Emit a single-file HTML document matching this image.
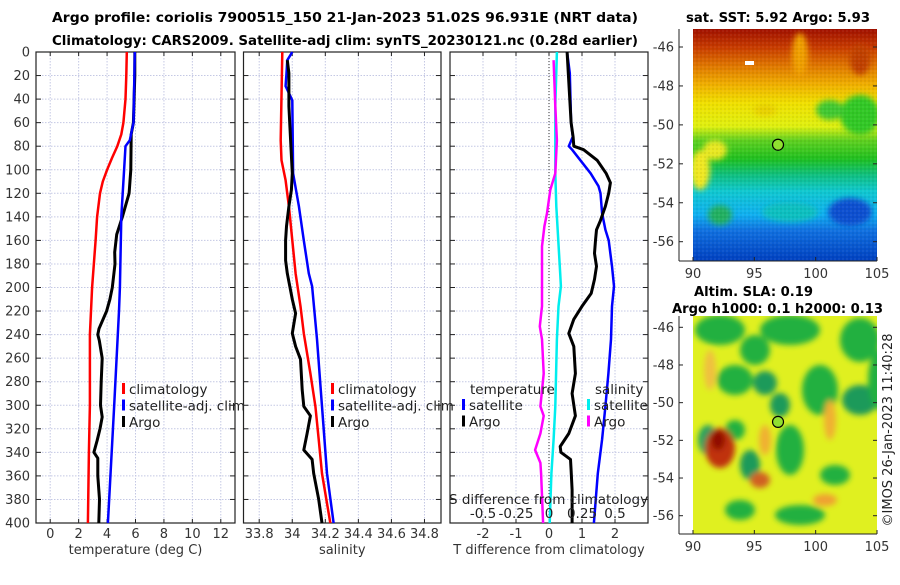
<!DOCTYPE html>
<html><head><meta charset="utf-8"><style>
body{margin:0;background:#fff;width:900px;height:580px;overflow:hidden}
svg{font-family:"DejaVu Sans","Liberation Sans",sans-serif}
</style></head><body>
<svg id="c" width="900" height="580" xmlns="http://www.w3.org/2000/svg">
<defs>
<linearGradient id="sst" x1="0" y1="0" x2="0" y2="1">
<stop offset="0" stop-color="#a01000"/><stop offset="0.08" stop-color="#c83c00"/><stop offset="0.16" stop-color="#e07800"/>
<stop offset="0.24" stop-color="#f0b000"/><stop offset="0.32" stop-color="#f0e000"/><stop offset="0.42" stop-color="#e0f010"/>
<stop offset="0.48" stop-color="#60d020"/><stop offset="0.56" stop-color="#20c020"/><stop offset="0.63" stop-color="#10c080"/>
<stop offset="0.7" stop-color="#10c8d0"/><stop offset="0.8" stop-color="#10b0f0"/><stop offset="0.87" stop-color="#1070e0"/><stop offset="1" stop-color="#0040c0"/>
</linearGradient>
<pattern id="px" width="4" height="4" patternUnits="userSpaceOnUse"><rect width="2" height="2" fill="rgba(0,0,0,0.05)"/><rect x="2" y="2" width="2" height="2" fill="rgba(255,255,255,0.05)"/></pattern>
<filter id="bl"><feGaussianBlur stdDeviation="3"/></filter>
<clipPath id="cm1"><rect x="693" y="29" width="184" height="232"/></clipPath>
<clipPath id="cm2"><rect x="693" y="316" width="184" height="218"/></clipPath>
</defs>
<g id="plots"></g>
</svg>
<script>
// ---------- data (depth in m) ----------
const tClimDepth=[0,20,40,60,70,80,90,100,110,120,140,160,200,240,300,340,400];
const tClim=[5.39,5.35,5.3,5.15,5.0,4.72,4.35,4.0,3.7,3.5,3.3,3.19,2.95,2.79,2.79,2.72,2.65];
const tSatDepth=[0,60,75,80,100,140,200,220,300,400];
const tSat=[5.95,5.86,5.6,5.3,5.2,5.0,4.9,4.84,4.5,4.06];
const tArgoDepth=[0,20,40,60,70,100,120,140,155,170,180,200,210,220,235,240,245,260,280,300,310,320,330,340,345,360,380,400];
const tArgo=[5.95,5.95,5.9,5.85,5.7,5.67,5.55,5.08,4.68,4.54,4.56,4.37,4.2,3.97,3.43,3.35,3.45,3.66,3.59,3.54,3.66,3.5,3.3,3.07,3.35,3.35,3.47,3.42];
const sClimDepth=[0,75,92,109,131,160,188,216,239,273,301,329,358,400];
const sClim=[33.94,33.93,33.935,33.96,33.98,34.0,34.02,34.05,34.07,34.11,34.14,34.16,34.18,34.23];
const sSatDepth=[0,7,18,29,41,103,131,160,188,199,244,301,358,400];
const sSat=[34.0,33.97,33.965,33.96,34.0,34.005,34.04,34.07,34.1,34.12,34.15,34.18,34.21,34.25];
const sArgoDepth=[7,18,46,75,103,117,131,148,160,177,188,210,222,239,250,261,287,301,309,324,338,346,358,380,400];
const sArgo=[33.97,33.98,33.98,33.99,34.0,33.995,33.98,33.965,33.96,33.96,33.97,34.0,34.02,34.0,34.02,34.05,34.06,34.07,34.11,34.09,34.07,34.12,34.13,34.16,34.18];
const dTSatDepth=[0,18,60,72,80,83,92,103,114,120,137,151,160,182,199,216,244,273,301,329,358,400];
const dTSat=[0.55,0.63,0.67,0.72,0.6,0.7,0.95,1.26,1.5,1.56,1.61,1.71,1.81,1.91,1.97,1.91,1.88,1.8,1.71,1.61,1.48,1.36];
const dTArgoDepth=[0,60,72,80,83,92,103,111,120,131,143,151,160,171,182,193,205,216,227,239,250,273,290,309,324,335,340,346,355,372,400];
const dTArgo=[0.55,0.67,0.73,0.75,1.05,1.46,1.73,1.86,1.81,1.71,1.56,1.44,1.41,1.38,1.44,1.38,1.28,1.0,0.75,0.6,0.75,0.8,0.7,0.8,0.6,0.34,0.36,0.65,0.67,0.7,0.7];
const dSSatDepth=[0,46,103,131,188,199,216,244,301,329,358,400];
const dSSat=[0.06,0.048,0.048,0.055,0.085,0.09,0.072,0.06,0.048,0.035,0.018,0.005];
const dSArgoDepth=[7,46,75,103,117,137,148,165,188,216,233,244,273,301,309,324,338,349,358,400];
const dSArgo=[0.035,0.048,0.06,0.048,0.01,-0.015,-0.035,-0.053,-0.053,-0.053,-0.07,-0.053,-0.04,-0.065,-0.04,-0.065,-0.105,-0.065,-0.06,-0.045];
const depthTicks=[0,20,40,60,80,100,120,140,160,180,200,220,240,260,280,300,320,340,360,380,400];
const tTicks=[0,2,4,6,8,10,12];
const sTicks=[33.8,34,34.2,34.4,34.6,34.8];
const sTickLbl=["33.8","34","34.2","34.4","34.6","34.8"];
const dTTicks=[-2,-1,0,1,2];
const dSTicks=[-0.5,-0.25,0,0.25,0.5];
const dSTickLbl=["-0.5","-0.25","0","0.25","0.5"];
const latTicks=[-46,-48,-50,-52,-54,-56];
const lonTicks=[90,95,100,105];
const argoLon=96.931, argoLat=-51.02;

const NS="http://www.w3.org/2000/svg";
const root=document.getElementById('plots');
function el(tag,attrs,parent,txt){const e=document.createElementNS(NS,tag);for(const k in attrs)e.setAttribute(k,attrs[k]);if(txt!==undefined)e.textContent=txt;(parent||root).appendChild(e);return e;}
const Y0=52,Y1=523;
const yS=d=>Y0+(d/400)*(Y1-Y0);

function panel(name,x0,x1,xmin,xmax,ticks,labels,xtitle){
  const g=el('g',{});
  
  
  const xS=v=>x0+(v-xmin)/(xmax-xmin)*(x1-x0);
  depthTicks.forEach(d=>{const l=el('line',{x1:x0,x2:x1,y1:yS(d),y2:yS(d),stroke:'#c4c8e4','stroke-width':1,'stroke-dasharray':'1.5,1.5'},g);});
  ticks.forEach((t,i)=>{const l=el('line',{x1:xS(t),x2:xS(t),y1:Y0,y2:Y1,stroke:'#c4c8e4','stroke-width':1,'stroke-dasharray':'1.5,1.5'},g);
    el('line',{x1:xS(t),x2:xS(t),y1:Y1,y2:Y1-4,stroke:'#222'},g);el('line',{x1:xS(t),x2:xS(t),y1:Y0,y2:Y0+4,stroke:'#222'},g);
    const tx=el('text',{x:xS(t),y:538,'font-size':13,'text-anchor':'middle',fill:'#333'},g,labels[i]);});
  depthTicks.forEach(d=>{el('line',{x1:x0,x2:x0+5,y1:yS(d),y2:yS(d),stroke:'#222'},g);el('line',{x1:x1,x2:x1-5,y1:yS(d),y2:yS(d),stroke:'#222'},g);});
  const b=el('rect',{x:x0,y:Y0,width:x1-x0,height:Y1-Y0,fill:'none',stroke:'#222','stroke-width':1.2},g);
  if(xtitle){const t=el('text',{x:(x0+x1)/2,y:554,'font-size':13,'text-anchor':'middle',fill:'#333'},g,xtitle);}
  return {g,xS};
}
function line(p,depths,vals,color,w,name,f){
  const pts=depths.map((d,i)=>p.xS(f?f(vals[i]):vals[i]).toFixed(1)+','+yS(d).toFixed(1)).join(' ');
  const l=el('polyline',{points:pts,fill:'none',stroke:color,'stroke-width':w,'stroke-linejoin':'round'},p.g);
  
  
}
function legend(p,x,y,items){
  items.forEach((it,i)=>{el('rect',{x:x,y:y+i*16.5-6,width:3,height:11,fill:it[1]},p.g);
    const t=el('text',{x:x+7,y:y+i*16.5+5,'font-size':13.5,fill:'#222'},p.g,it[0]);
    
    });
}
depthTicks.forEach(d=>{const t=el('text',{x:30,y:yS(d)+4.5,'font-size':13,'text-anchor':'end',fill:'#333'},root,String(d));});

const p1=panel('temperature-panel',36,235,-1,13,tTicks,tTicks.map(String),'temperature (deg C)');
line(p1,tClimDepth,tClim,'#ff0000',2.5,'temp-climatology-line');
line(p1,tArgoDepth,tArgo,'#000',3,'temp-argo-line');
line(p1,tSatDepth,tSat,'#0000ff',2.5,'temp-satellite-line');
legend(p1,122,389,[['climatology','#ff0000'],['satellite-adj. clim','#0000ff'],['Argo','#000']]);

const p2=panel('salinity-panel',243.5,441,33.705,34.9,sTicks,sTickLbl,'salinity');
line(p2,sClimDepth,sClim,'#ff0000',2.5,'sal-climatology-line');
line(p2,sSatDepth,sSat,'#0000ff',2.5,'sal-satellite-line');
line(p2,sArgoDepth,sArgo,'#000',3,'sal-argo-line');
legend(p2,331,389,[['climatology','#ff0000'],['satellite-adj. clim','#0000ff'],['Argo','#000']]);

const p3=panel('difference-panel',450,648,-3,3,dTTicks,dTTicks.map(String),'T difference from climatology');
el('line',{x1:p3.xS(0),x2:p3.xS(0),y1:Y0,y2:Y1,stroke:'#333','stroke-dasharray':'1,2'},p3.g);
line(p3,dSSatDepth,dSSat,'#00eeee',2.5,'sdiff-satellite-line',v=>v*4);
line(p3,dSArgoDepth,dSArgo,'#ff00ff',2.5,'sdiff-argo-line',v=>v*4);
line(p3,dTSatDepth,dTSat,'#0000ff',2.5,'tdiff-satellite-line');
line(p3,dTArgoDepth,dTArgo,'#000',3,'tdiff-argo-line');
legend(p3,462,405,[['satellite','#0000ff'],['Argo','#000']]);
legend(p3,587,405,[['satellite','#00eeee'],['Argo','#ff00ff']]);
el('text',{x:470,y:394,'font-size':13.5,fill:'#222'},p3.g,'temperature');
el('text',{x:595,y:394,'font-size':13.5,fill:'#222'},p3.g,'salinity');
el('text',{x:449,y:504,'font-size':13.5,fill:'#222'},p3.g,'S difference from climatology');
dSTicks.forEach((s,i)=>{const t=el('text',{x:p3.xS(s*4),y:518,'font-size':13.5,'text-anchor':'middle',fill:'#222'},p3.g,dSTickLbl[i]);});

const t1=el('text',{x:52,y:22,'font-size':13,'font-weight':'bold',fill:'#000',textLength:586,lengthAdjust:'spacingAndGlyphs'},root,'Argo profile: coriolis 7900515_150 21-Jan-2023 51.02S 96.931E (NRT data)');

const t2=el('text',{x:52,y:45,'font-size':13,'font-weight':'bold',fill:'#000',textLength:586,lengthAdjust:'spacingAndGlyphs'},root,'Climatology: CARS2009. Satellite-adj clim: synTS_20230121.nc (0.28d earlier)');


function map(name,top,bot,lat46,lat56,drawBg,clip){
  const g=el('g',{});
  const lx=v=>693+(v-90)/15*184;const ly=v=>lat46+(-46-v)/10*(lat56-lat46);
  const bg=el('g',{'clip-path':'url(#'+clip+')'},g);drawBg(bg,lx,ly);
  el('line',{x1:679,x2:679,y1:top,y2:bot,stroke:'#222'},g);el('line',{x1:679,x2:877,y1:bot,y2:bot,stroke:'#222'},g);
  latTicks.forEach(v=>{el('line',{x1:679,x2:683,y1:ly(v),y2:ly(v),stroke:'#222'},g);el('line',{x1:877,x2:873,y1:ly(v),y2:ly(v),stroke:'#222'},g);
    const t=el('text',{x:674,y:ly(v)+4.5,'font-size':13,'text-anchor':'end',fill:'#333'},g,String(v));});
  lonTicks.forEach(v=>{el('line',{x1:lx(v),x2:lx(v),y1:bot,y2:bot-4,stroke:'#222'},g);
    const t=el('text',{x:lx(v),y:bot+17,'font-size':13,'text-anchor':'middle',fill:'#333'},g,String(v));});
  const c=el('circle',{cx:lx(argoLon),cy:ly(argoLat),r:5.5,fill:'#90e030',stroke:'#000','stroke-width':1.2},g);
  
}
map('sst-map',29,261,47,241.7,function(g){
  el('rect',{x:693,y:29,width:184,height:232,fill:'url(#sst)'},g);
  const b=el('g',{filter:'url(#bl)'},g);
  [[700,170,10,20,'#f0e820'],[715,150,12,10,'#e8e820'],[860,115,20,20,'#30c828'],[830,110,14,10,'#40c830'],[790,212,28,10,'#10c0c0'],[850,212,22,14,'#1050d0'],[720,215,12,10,'#20b060'],[765,110,12,6,'#e8d000'],[800,55,8,22,'#f0a000'],[860,60,10,15,'#c04000']].forEach(a=>el('ellipse',{cx:a[0],cy:a[1],rx:a[2],ry:a[3],fill:a[4]},b));
  el('rect',{x:693,y:29,width:184,height:232,fill:'url(#px)'},g);
  el('rect',{x:745,y:61,width:9,height:4,fill:'#fff'},g);
},'cm1');
map('sla-map',316,534,327.3,515.7,function(g){
  el('rect',{x:693,y:316,width:184,height:218,fill:'#e0f020'},g);
  const b=el('g',{filter:'url(#bl)'},g);
  [[720,330,25,15,'#20b040'],[790,330,30,15,'#20b040'],[860,340,20,22,'#20b040'],[755,350,15,15,'#20b040'],[735,380,18,15,'#20b040'],[765,383,12,12,'#1a9a5a'],[820,390,18,25,'#20b040'],[860,400,18,15,'#1a9a5a'],[708,440,10,15,'#20a060'],[735,430,10,10,'#20b040'],[780,405,10,12,'#1a9a5a'],[790,450,14,25,'#20b040'],[720,448,15,20,'#c03010'],[718,440,7,10,'#901000'],[750,465,10,15,'#1a9a5a'],[760,480,10,8,'#d06020'],[835,475,15,10,'#20b040'],[800,515,25,10,'#20b040'],[825,500,12,6,'#f0a030'],[740,510,15,10,'#20b040'],[710,370,6,20,'#f0c040'],[765,440,6,15,'#f0b030'],[830,420,6,20,'#f0b030'],[880,380,12,30,'#20b040']].forEach(a=>el('ellipse',{cx:a[0],cy:a[1],rx:a[2],ry:a[3],fill:a[4]},b));
},'cm2');
[['sst-map-title',686,22,'sat. SST: 5.92 Argo: 5.93',184],['sla-map-title',694,296,'Altim. SLA: 0.19',119],['sla-map-subtitle',672,313,'Argo h1000: 0.1 h2000: 0.13',211]].forEach(a=>{
  const t=el('text',{x:a[1],y:a[2],'font-size':13,'font-weight':'bold',fill:'#000',textLength:a[4],lengthAdjust:'spacingAndGlyphs'},root,a[3]);
  
  });
const cr=el('text',{x:0,y:0,'font-size':13,'text-anchor':'middle',fill:'#222',transform:'translate(892,430) rotate(-90)'},root,'©IMOS 26-Jan-2023 11:40:28');


</script>
</body></html>
